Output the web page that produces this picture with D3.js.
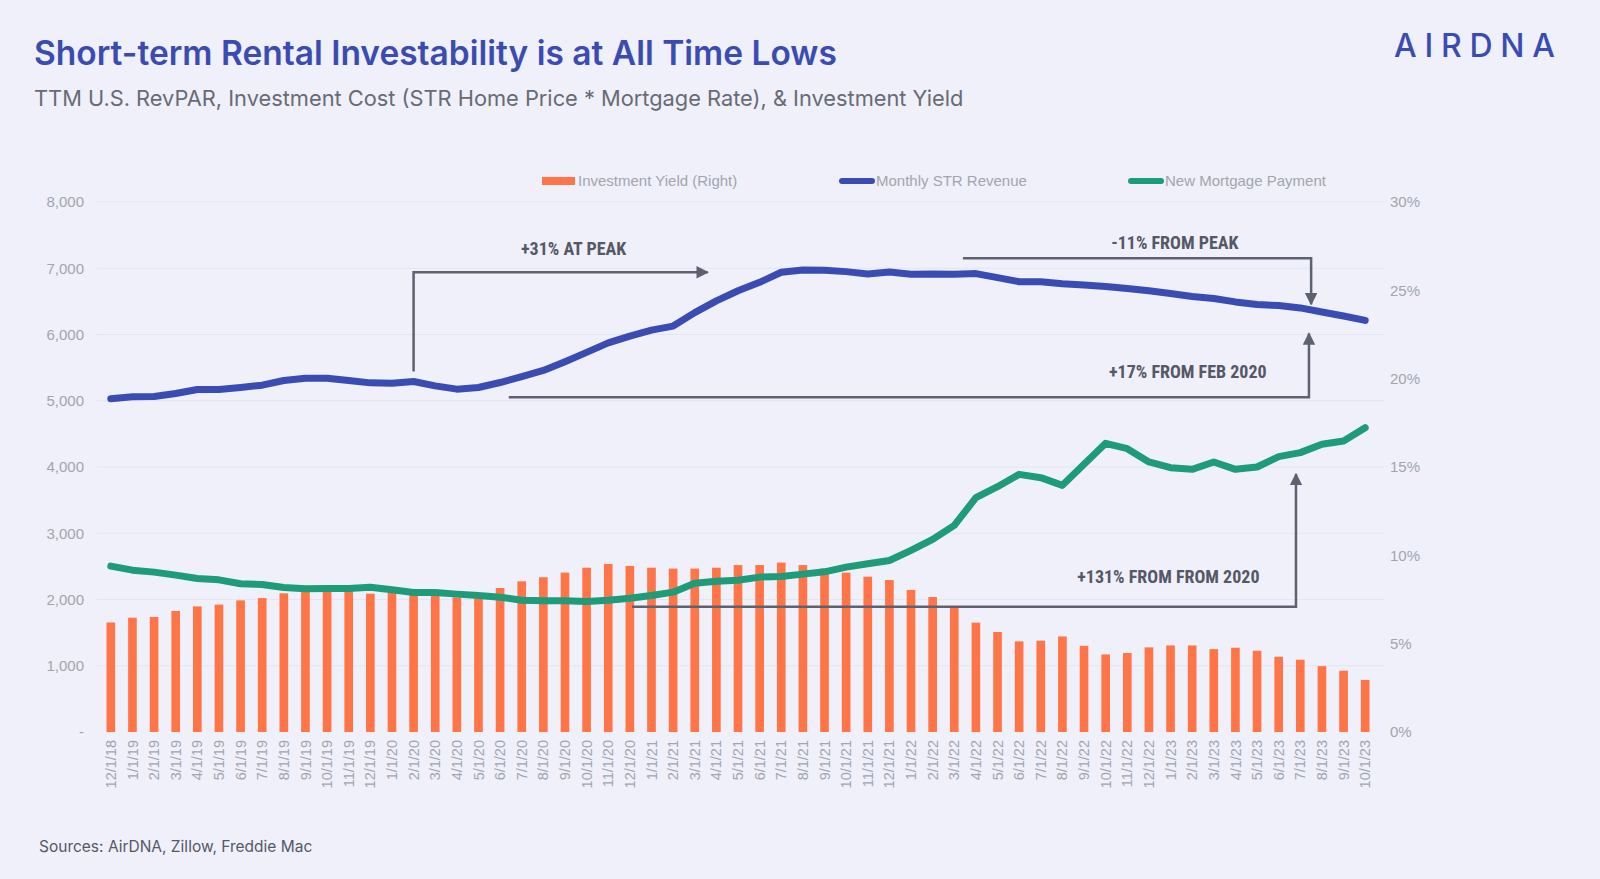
<!DOCTYPE html>
<html>
<head>
<meta charset="utf-8">
<script src="https://cdn.jsdelivr.net/npm/d3@7"></script>
<style>
  body { margin: 0; background: #eff0fa; }
  svg text { font-family: "Liberation Sans", Arial, sans-serif; }
</style>
</head>
<body>
<svg id="chart" width="1600" height="879"></svg>
<script>
// monthly labels on the x axis
const months = [
  "12/1/18",
  "1/1/19", "2/1/19", "3/1/19", "4/1/19", "5/1/19", "6/1/19", "7/1/19", "8/1/19", "9/1/19", "10/1/19", "11/1/19", "12/1/19",
  "1/1/20", "2/1/20", "3/1/20", "4/1/20", "5/1/20", "6/1/20", "7/1/20", "8/1/20", "9/1/20", "10/1/20", "11/1/20", "12/1/20",
  "1/1/21", "2/1/21", "3/1/21", "4/1/21", "5/1/21", "6/1/21", "7/1/21", "8/1/21", "9/1/21", "10/1/21", "11/1/21", "12/1/21",
  "1/1/22", "2/1/22", "3/1/22", "4/1/22", "5/1/22", "6/1/22", "7/1/22", "8/1/22", "9/1/22", "10/1/22", "11/1/22", "12/1/22",
  "1/1/23", "2/1/23", "3/1/23", "4/1/23", "5/1/23", "6/1/23", "7/1/23", "8/1/23", "9/1/23", "10/1/23"
];

// Monthly STR Revenue (left axis, $)
const strRevenue = [
  5030, 5060, 5065, 5110, 5170, 5170, 5200, 5235, 5305, 5340,
  5340, 5305, 5270, 5265, 5290, 5225, 5175, 5200, 5275, 5365,
  5457, 5590, 5730, 5873, 5975, 6066, 6127, 6330, 6508, 6660,
  6787, 6939, 6975, 6970, 6949, 6914, 6944, 6909, 6914, 6909,
  6919, 6858, 6797, 6797, 6766, 6746, 6726, 6695, 6660, 6619,
  6574, 6543, 6492, 6452, 6437, 6401, 6340, 6279, 6213
];

// New Mortgage Payment (left axis, $)
const mortgagePayment = [
  2504, 2443, 2413, 2368, 2317, 2297, 2237, 2227, 2181, 2161,
  2166, 2166, 2186, 2146, 2106, 2106, 2081, 2060, 2035, 1990,
  1980, 1980, 1970, 1990, 2020, 2060, 2111, 2245, 2275, 2290,
  2338, 2348, 2383, 2418, 2489, 2539, 2589, 2741, 2907, 3118,
  3537, 3703, 3889, 3839, 3723, 4040, 4358, 4277, 4076, 3990,
  3965, 4076, 3965, 4000, 4156, 4217, 4343, 4393, 4594
];

// Investment Yield (right axis, %)
const investmentYield = [
  6.20, 6.47, 6.51, 6.85, 7.11, 7.21, 7.45, 7.58, 7.85, 7.94,
  8.00, 8.00, 7.83, 7.90, 7.81, 7.75, 7.62, 7.56, 8.15, 8.53,
  8.76, 9.02, 9.30, 9.51, 9.40, 9.30, 9.25, 9.25, 9.30, 9.45,
  9.45, 9.59, 9.45, 9.25, 9.02, 8.79, 8.60, 8.04, 7.64, 7.04,
  6.19, 5.66, 5.13, 5.17, 5.41, 4.88, 4.39, 4.47, 4.79, 4.90,
  4.90, 4.69, 4.77, 4.60, 4.26, 4.09, 3.73, 3.47, 2.95
];

const leftTicks = [0, 1000, 2000, 3000, 4000, 5000, 6000, 7000, 8000];
const rightTicks = [0, 5, 10, 15, 20, 25, 30];

// annotation callouts, given in (month index, left-axis value)
const annotations = [
  { label: "+31% AT PEAK", text: [21.4, 7294], path: [[14, 5442], [14, 6939], [27.6, 6939]] },
  { label: "-11% FROM PEAK", text: [49.2, 7386], path: [[39.4, 7152], [55.5, 7152], [55.5, 6457]] },
  { label: "+17% FROM FEB 2020", text: [49.8, 5437], path: [[18.4, 5051], [55.4, 5051], [55.4, 6015]] },
  { label: "+131% FROM FROM 2020", text: [48.9, 2340], path: [[24.1, 1891], [54.8, 1891], [54.8, 3894]] }
];

const blue = "#3a4cb1", green = "#1e9b78", orange = "#ff7547", annoGray = "#5e616f";

const svg = d3.select("#chart");
const plotLeft = 100, plotRight = 1376, plotTop = 202, plotBottom = 732;

const x = d3.scaleBand().domain(months).range([plotLeft, plotRight]).padding(0.6).paddingOuter(0.3);
const xc = d => x(d) + x.bandwidth() / 2;
// fractional month position for callouts
const xi = i => xc(months[0]) + x.step() * i;
const yL = d3.scaleLinear().domain([0, 8000]).range([plotBottom, plotTop]);
const yR = d3.scaleLinear().domain([0, 30]).range([plotBottom, plotTop]);

// title block
svg.append("text").attr("x", 34).attr("y", 65)
  .style("font-family", "Inter, 'Noto Sans', sans-serif").style("font-weight", 600)
  .style("font-size", "33.5px").attr("fill", "#3a4cb1")
  .text("Short-term Rental Investability is at All Time Lows");
svg.append("text").attr("x", 34).attr("y", 106)
  .style("font-family", "Inter, 'Noto Sans', sans-serif")
  .style("font-size", "21.8px").attr("fill", "#686b75")
  .text("TTM U.S. RevPAR, Investment Cost (STR Home Price * Mortgage Rate), & Investment Yield");
svg.append("text").attr("x", 1394).attr("y", 57)
  .attr("textLength", 161).attr("lengthAdjust", "spacing")
  .style("font-family", "Inter, 'Noto Sans', sans-serif").style("font-weight", 500)
  .style("font-size", "32px").attr("fill", "#3a4cb1")
  .text("AIRDNA");

// gridlines
svg.append("g").selectAll("line").data(leftTicks.slice(1)).join("line")
  .attr("x1", 97).attr("x2", 1384)
  .attr("y1", d => yL(d)).attr("y2", d => yL(d))
  .attr("stroke", "#e3e5f0").attr("stroke-width", 1);

// left axis
const leftAxis = d3.axisLeft(yL).tickValues(leftTicks).tickSize(0).tickPadding(0)
  .tickFormat(d => d === 0 ? "-" : d3.format(",")(d));
svg.append("g").attr("transform", "translate(84,0)").call(leftAxis)
  .call(g => g.select(".domain").remove())
  .selectAll("text").attr("fill", "#a2a5b0").style("font-size", "15px");

// right axis
const rightAxis = d3.axisRight(yR).tickValues(rightTicks).tickSize(0).tickPadding(0)
  .tickFormat(d => d + "%");
svg.append("g").attr("transform", "translate(1390,0)").call(rightAxis)
  .call(g => g.select(".domain").remove())
  .selectAll("text").attr("fill", "#a2a5b0").style("font-size", "15px");

// x axis labels
const xAxis = d3.axisBottom(x).tickSize(0).tickPadding(0);
svg.append("g").attr("transform", "translate(0," + (plotBottom + 8) + ")").call(xAxis)
  .call(g => g.select(".domain").remove())
  .selectAll("text")
  .attr("transform", "rotate(-90)")
  .attr("dy", "0.35em").attr("dx", 0).attr("y", 0).attr("x", 0)
  .style("text-anchor", "end")
  .attr("fill", "#a2a5b0").style("font-size", "14.5px");

// bars
svg.append("g").selectAll("rect").data(investmentYield).join("rect")
  .attr("x", (d, i) => x(months[i]))
  .attr("y", d => yR(d))
  .attr("width", x.bandwidth())
  .attr("height", d => plotBottom - yR(d))
  .attr("fill", orange);

// lines
const line = d3.line().x((d, i) => xc(months[i])).y(d => yL(d));
svg.append("path").datum(mortgagePayment).attr("d", line)
  .attr("fill", "none").attr("stroke", green).attr("stroke-width", 7)
  .attr("stroke-linejoin", "round").attr("stroke-linecap", "round");
svg.append("path").datum(strRevenue).attr("d", line)
  .attr("fill", "none").attr("stroke", blue).attr("stroke-width", 7)
  .attr("stroke-linejoin", "round").attr("stroke-linecap", "round");

// callouts
svg.append("defs").append("marker")
  .attr("id", "arrow").attr("viewBox", "0 0 10 10")
  .attr("refX", 9).attr("refY", 5)
  .attr("markerWidth", 5).attr("markerHeight", 5)
  .attr("markerUnits", "strokeWidth")
  .attr("orient", "auto")
  .append("path").attr("d", "M0,0 L10,5 L0,10 Z").attr("fill", annoGray);

const annoLine = d3.line().x(p => xi(p[0])).y(p => yL(p[1]));
annotations.forEach(a => {
  svg.append("path").attr("d", annoLine(a.path))
    .attr("fill", "none").attr("stroke", annoGray).attr("stroke-width", 2.5)
    .attr("marker-end", "url(#arrow)");
  svg.append("text").attr("x", xi(a.text[0])).attr("y", yL(a.text[1]))
    .attr("dy", "0.35em").attr("text-anchor", "middle")
    .style("font-family", "'Liberation Sans Narrow', 'Roboto Condensed', 'Liberation Sans', sans-serif")
    .style("font-weight", 700).style("font-size", "18px").attr("fill", "#555866")
    .text(a.label);
});

// legend
const legend = svg.append("g").attr("transform", "translate(0,181)");
legend.append("rect").attr("x", 542).attr("y", -4).attr("width", 33).attr("height", 8).attr("fill", orange);
legend.append("text").attr("x", 578).attr("dy", "0.35em").attr("fill", "#a2a5b0").style("font-size", "15px").text("Investment Yield (Right)");
legend.append("line").attr("x1", 842).attr("x2", 872).attr("y1", 0).attr("y2", 0)
  .attr("stroke", blue).attr("stroke-width", 6).attr("stroke-linecap", "round");
legend.append("text").attr("x", 876).attr("dy", "0.35em").attr("fill", "#a2a5b0").style("font-size", "15px").text("Monthly STR Revenue");
legend.append("line").attr("x1", 1131).attr("x2", 1161).attr("y1", 0).attr("y2", 0)
  .attr("stroke", green).attr("stroke-width", 6).attr("stroke-linecap", "round");
legend.append("text").attr("x", 1165).attr("dy", "0.35em").attr("fill", "#a2a5b0").style("font-size", "15px").text("New Mortgage Payment");

// source note
svg.append("text").attr("x", 39).attr("y", 852)
  .style("font-family", "Inter, 'Noto Sans', sans-serif")
  .style("font-size", "15.5px").attr("fill", "#555866")
  .text("Sources: AirDNA, Zillow, Freddie Mac");
</script>
</body>
</html>
